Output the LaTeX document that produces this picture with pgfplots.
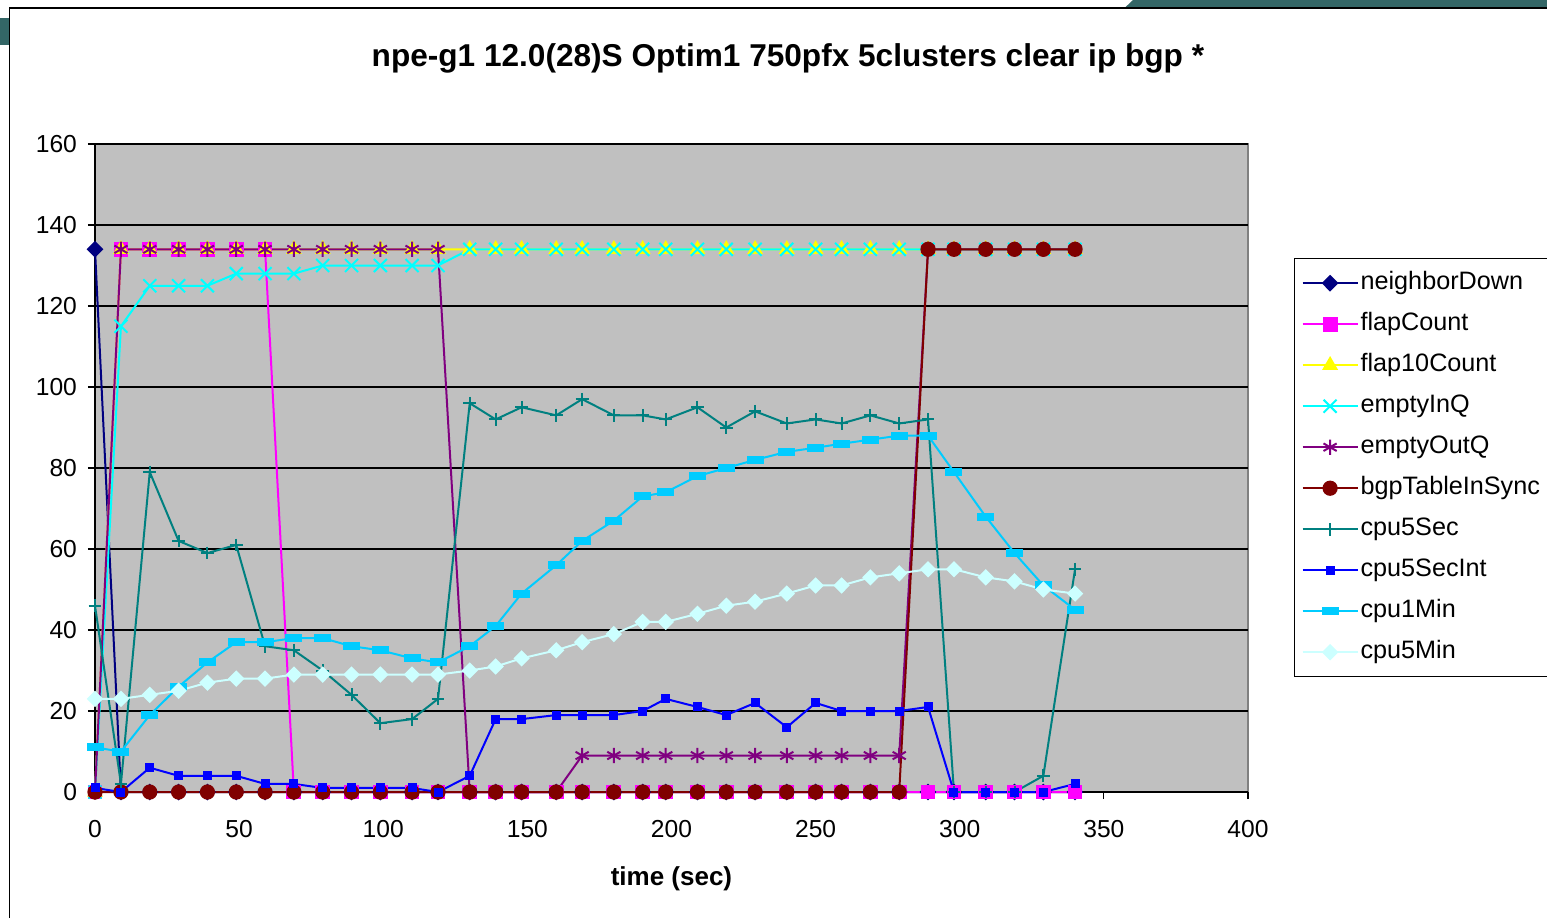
\documentclass[border=0pt]{standalone}
\usepackage{pgfplots}
\pgfplotsset{compat=1.18}
\usepackage{pgfplotstable}
\usepackage{fontspec}
\setmainfont{Liberation Sans}
\definecolor{cNavy}{RGB}{0,0,128}
\definecolor{cMag}{RGB}{255,0,255}
\definecolor{cYel}{RGB}{255,255,0}
\definecolor{cCyan}{RGB}{0,255,255}
\definecolor{cPurp}{RGB}{128,0,128}
\definecolor{cDRed}{RGB}{128,0,0}
\definecolor{cTeal}{RGB}{0,128,128}
\definecolor{cBlue}{RGB}{0,0,255}
\definecolor{cSky}{RGB}{0,204,255}
\definecolor{cPale}{RGB}{204,255,255}
\definecolor{plotbg}{RGB}{192,192,192}
\definecolor{plotbd}{RGB}{128,128,128}
\definecolor{slide}{RGB}{51,102,102}

\pgfplotstableread{
t nd fc f10 inq outq bgp c5s c5si c1m c5m
0 134 0 0 0 0 0 46 1 11 23
9 0 134 134 115 134 0 2 0 10 23
19 0 134 134 125 134 0 79 6 19 24
29 0 134 134 125 134 0 62 4 26 25
39 0 134 134 125 134 0 59 4 32 27
49 0 134 134 128 134 0 61 4 37 28
59 0 134 134 128 134 0 36 2 37 28
69 0 0 134 128 134 0 35 2 38 29
79 0 0 134 130 134 0 30 1 38 29
89 0 0 134 130 134 0 24 1 36 29
99 0 0 134 130 134 0 17 1 35 29
110 0 0 134 130 134 0 18 1 33 29
119 0 0 134 130 134 0 23 0 32 29
130 0 0 134 134 0 0 96 4 36 30
139 0 0 134 134 0 0 92 18 41 31
148 0 0 134 134 0 0 95 18 49 33
160 0 0 134 134 0 0 93 19 56 35
169 0 0 134 134 9 0 97 19 62 37
180 0 0 134 134 9 0 93 19 67 39
190 0 0 134 134 9 0 93 20 73 42
198 0 0 134 134 9 0 92 23 74 42
209 0 0 134 134 9 0 95 21 78 44
219 0 0 134 134 9 0 90 19 80 46
229 0 0 134 134 9 0 94 22 82 47
240 0 0 134 134 9 0 91 16 84 49
250 0 0 134 134 9 0 92 22 85 51
259 0 0 134 134 9 0 91 20 86 51
269 0 0 134 134 9 0 93 20 87 53
279 0 0 134 134 9 0 91 20 88 54
289 0 0 134 134 134 134 92 21 88 55
298 0 0 134 134 134 134 0 0 79 55
309 0 0 134 134 134 134 0 0 68 53
319 0 0 134 134 134 134 0 0 59 52
329 0 0 134 134 134 134 4 0 51 50
340 0 0 134 134 134 134 55 2 45 49
}\data

\begin{document}
\begin{tikzpicture}
\useasboundingbox (0,0) rectangle (773.5pt,-459pt);
\fill[white] (0,0) rectangle (773.5pt,-459pt);
\fill[slide] (0,-9pt) rectangle (4.6pt,-22.5pt);
\fill[slide] (562.5pt,-3.8pt) -- (566.5pt,0pt) -- (773.5pt,0pt) -- (773.5pt,-3.8pt) -- cycle;
\draw[black, line width=0.6pt] (4.8pt,-459pt) -- (4.8pt,-4pt) -- (773.5pt,-4pt);
\begin{axis}[
  at={(47.5pt,-396pt)}, anchor=south west,
  scale only axis, width=576.5pt, height=324pt,
  xmin=0, xmax=400, ymin=0, ymax=160,
  xtick={0,50,...,400}, ytick={0,20,...,160},
  axis x line*=bottom, axis y line*=left,
  axis line style={-, black, line width=0.8pt},
  axis background/.style={fill=plotbg, draw=plotbd, line width=1.2pt},
  ymajorgrids, major grid style={black, line width=0.6pt},
  tick align=outside, major tick length=3.5pt, tick style={black, line width=0.6pt},
  ticklabel style={font=\fontsize{12.3}{14}\selectfont},
  xticklabel style={yshift=-7pt},
  yticklabel style={xshift=-2pt},
  /pgf/number format/assume math mode=true,
  clip=false,
  xlabel={time (sec)},
  xlabel style={font=\bfseries\fontsize{13}{15}\selectfont, at={(axis description cs:0.5,-0.134)}, anchor=center},
  title={npe-g1 12.0(28)S Optim1 750pfx 5clusters clear ip bgp *},
  title style={font=\bfseries\fontsize{15.8}{18}\selectfont, at={(axis description cs:0.601,1.113)}, anchor=center},
  legend cell align=left,
  legend style={at={(1.0399,0.8241)}, anchor=north west, font=\fontsize{12.6}{14}\selectfont,
    draw=black, fill=white, line width=0.6pt, inner xsep=3.5pt, inner ysep=5.5pt, row sep=6.9pt,
    nodes={inner sep=1pt, text height=9pt, text depth=2.6pt},
    /tikz/every even column/.append style={column sep=1.5pt}},
  legend image code/.code={\draw[mark repeat=2,mark phase=2,#1] plot coordinates {(0pt,0pt) (13.75pt,0pt) (27.5pt,0pt)};},
  every axis plot/.append style={line width=1pt},
]
\addplot[cNavy, mark=diamond*, mark size=3.5pt, mark options={solid, xscale=1.33, fill=cNavy}] table[x=t,y=nd]{\data};
\addlegendentry{neighborDown}
\addplot[cMag, mark=square*, mark size=3.2pt, mark options={solid, fill=cMag}] table[x=t,y=fc]{\data};
\addlegendentry{flapCount}
\addplot[cYel, mark=triangle*, mark size=3.6pt, mark options={solid, fill=cYel}] table[x=t,y=f10]{\data};
\addlegendentry{flap10Count}
\addplot[cCyan, mark=x, mark size=4.6pt, mark options={solid}] table[x=t,y=inq]{\data};
\addlegendentry{emptyInQ}
\addplot[cPurp, mark=asterisk, mark size=3.8pt, mark options={solid}] table[x=t,y=outq]{\data};
\addlegendentry{emptyOutQ}
\addplot[cDRed, mark=*, mark size=3.3pt, mark options={solid, fill=cDRed}] table[x=t,y=bgp]{\data};
\addlegendentry{bgpTableInSync}
\addplot[cTeal, mark=+, mark size=3.2pt, mark options={solid}] table[x=t,y=c5s]{\data};
\addlegendentry{cpu5Sec}
\addplot[cBlue, mark=square*, mark size=1.75pt, mark options={solid, fill=cBlue}] table[x=t,y=c5si]{\data};
\addlegendentry{cpu5SecInt}
\addplot[cSky, mark=square*, mark size=1.5pt, mark options={solid, xscale=2.5, fill=cSky}] table[x=t,y=c1m]{\data};
\addlegendentry{cpu1Min}
\addplot[cPale, mark=diamond*, mark size=3.4pt, mark options={solid, xscale=1.33, fill=cPale}] table[x=t,y=c5m]{\data};
\addlegendentry{cpu5Min}
\end{axis}
\end{tikzpicture}
\end{document}
